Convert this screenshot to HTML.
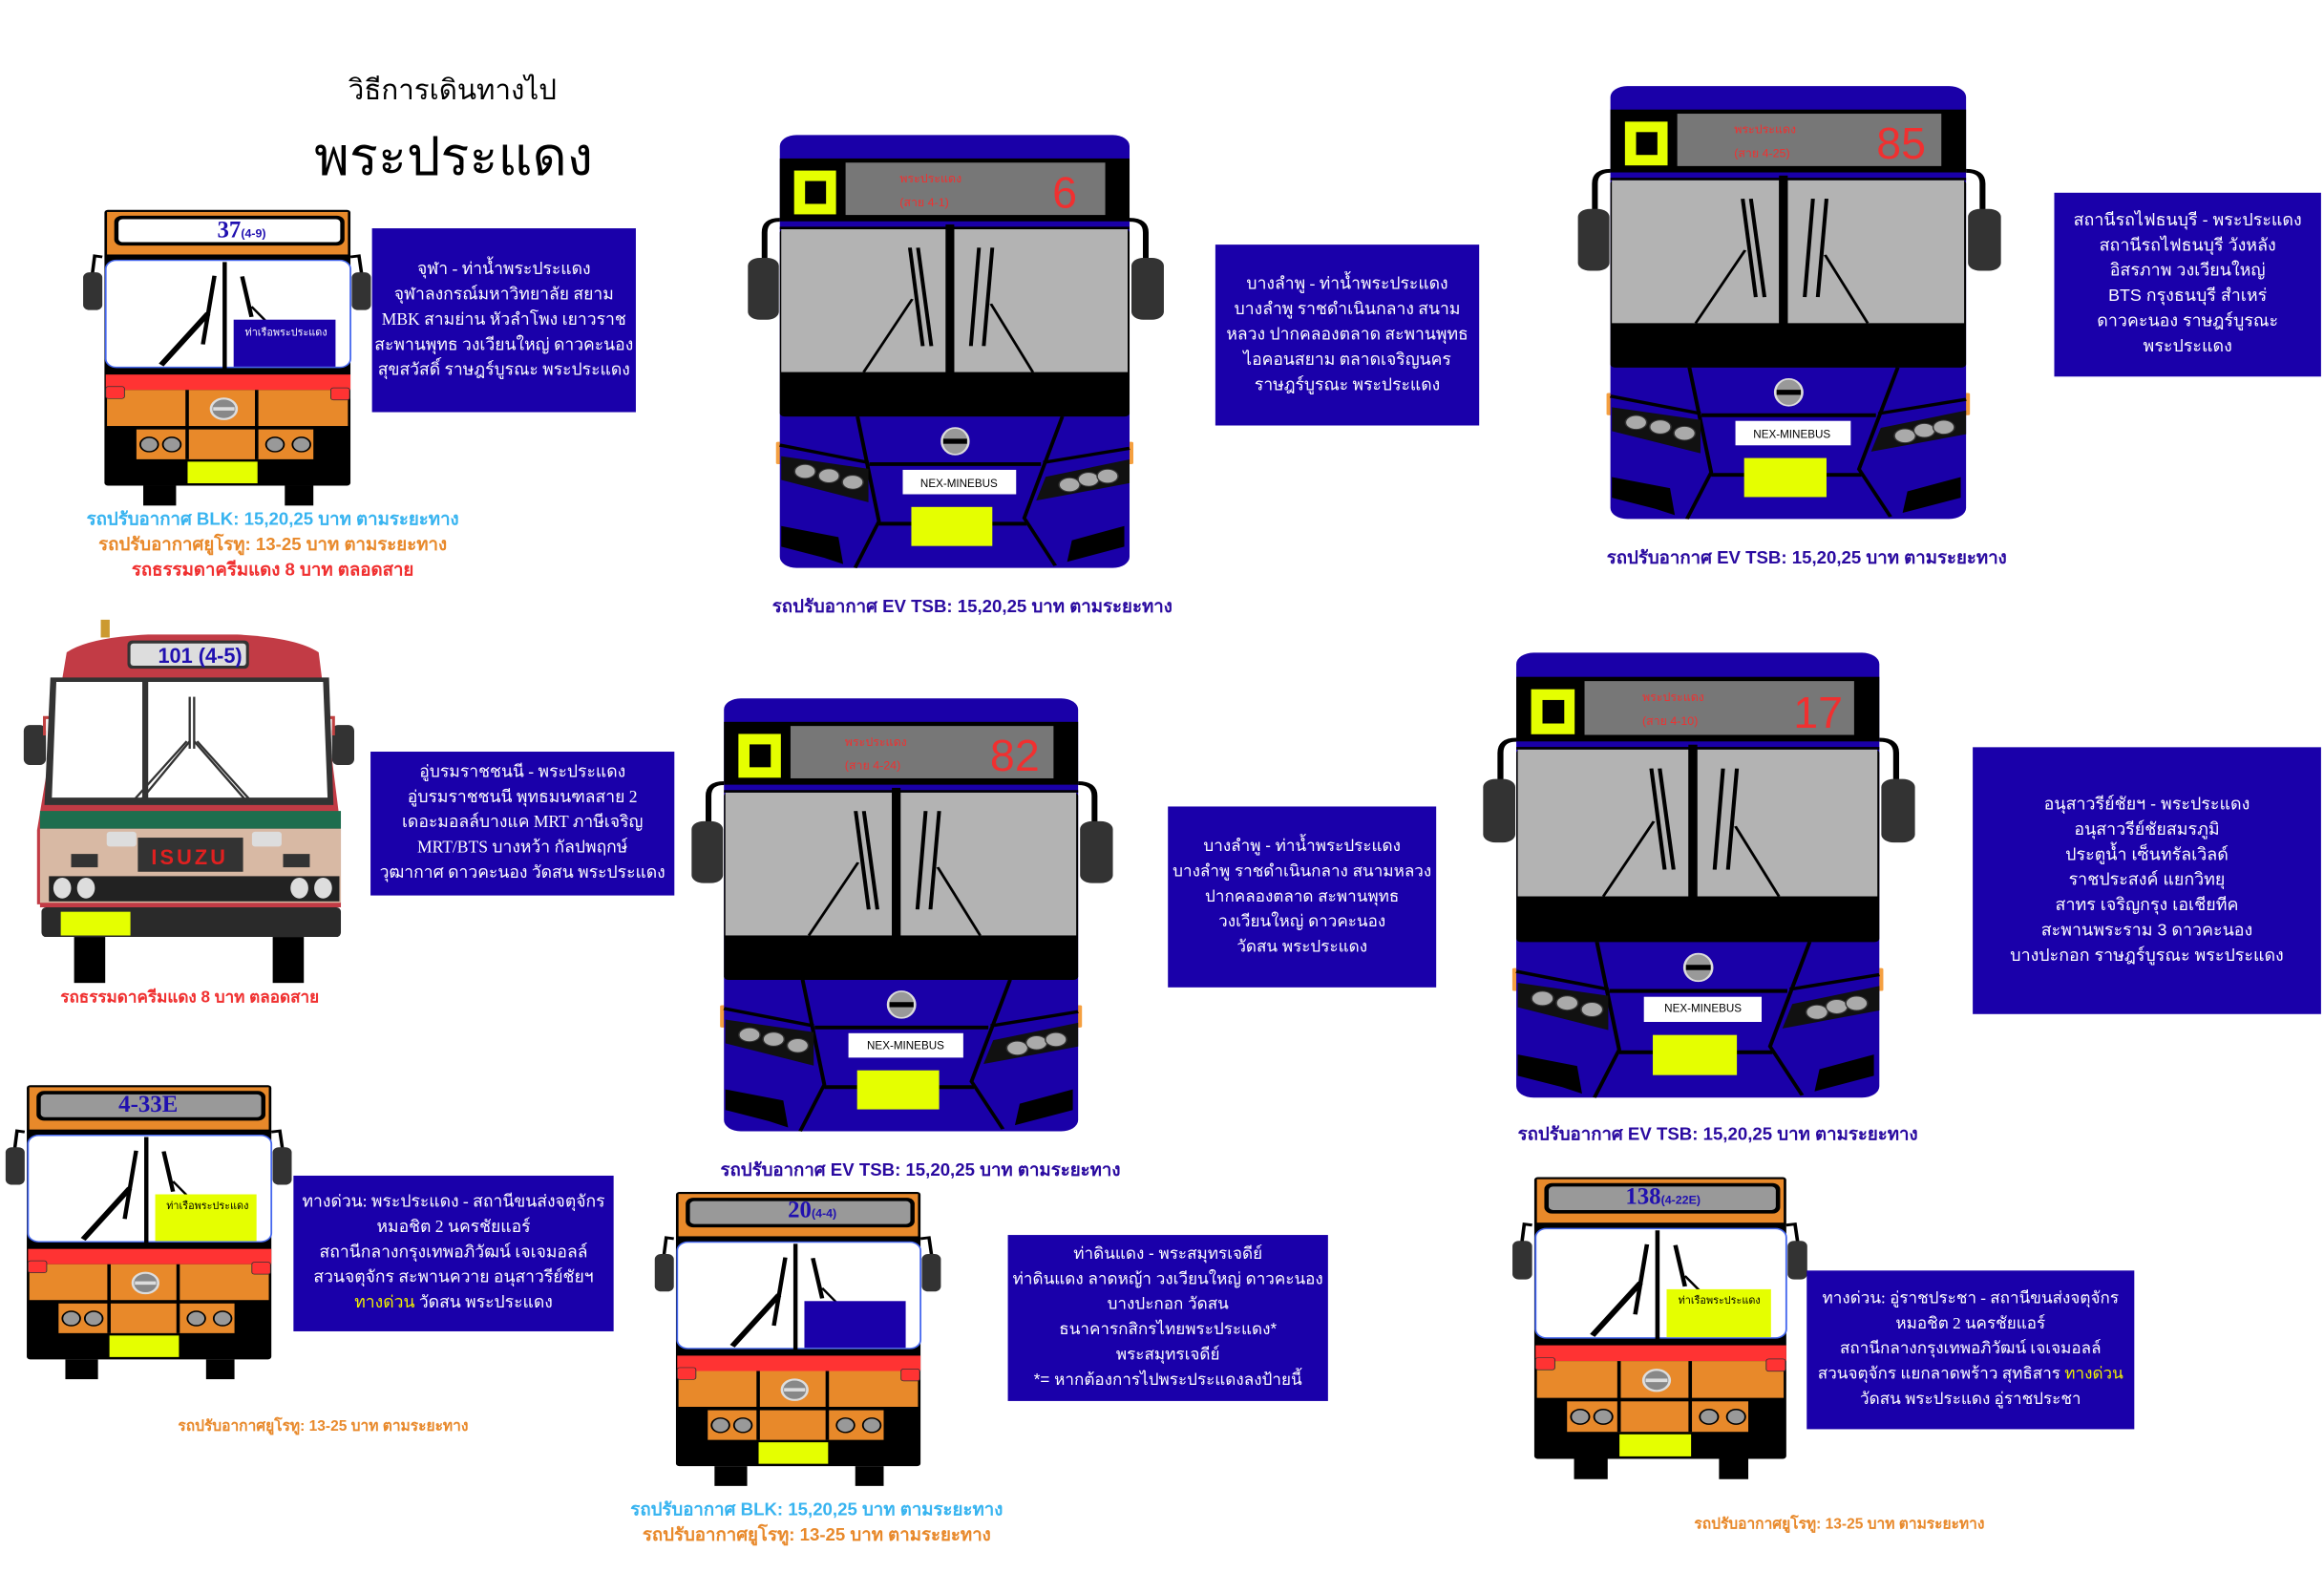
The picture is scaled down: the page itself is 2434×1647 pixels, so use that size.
<!DOCTYPE html>
<html><head><meta charset="utf-8">
<style>
html,body{margin:0;padding:0;background:#fff;overflow:hidden;}
#w{position:absolute;left:0;top:0;width:1568px;height:1061px;transform:scale(1.55230);transform-origin:0 0;font-family:"Liberation Sans",sans-serif;}
.a{position:absolute;}
.box{position:absolute;background:#1a00aa;color:#fff;display:flex;align-items:center;justify-content:center;text-align:center;font-size:11.3px;line-height:17px;font-family:"Liberation Serif",serif;white-space:nowrap;overflow:hidden;}
.box>div{width:100%;}
.sans{font-family:"Liberation Sans",sans-serif;font-size:11.5px;}
.cap{position:absolute;font-weight:bold;font-size:12px;white-space:nowrap;transform:translateX(-50%);}
.ev{color:#2a0aa0}.bl{color:#38b4f0}.or{color:#e8892b}.rd{color:#f03030}
.hd{position:absolute;color:#f03030;font-size:8px;white-space:nowrap;line-height:16px;}
.num{position:absolute;color:#f03030;font-size:30px;line-height:30px;}
.nex{position:absolute;font-size:7.5px;color:#000;transform:translate(-50%,-50%);white-space:nowrap;}
.sg{position:absolute;color:#2010b0;font-family:"Liberation Serif",serif;font-weight:bold;font-size:16px;white-space:nowrap;transform:translate(-50%,-50%);}
.sg small{font-family:"Liberation Sans",sans-serif;font-size:8px;}
.stk{position:absolute;font-size:7px;white-space:nowrap;transform:translate(-50%,-50%);}
.y{color:#f0f000}
svg.b{position:absolute;overflow:visible;}
</style></head><body>
<svg width="0" height="0" style="position:absolute">
<defs>
<symbol id="ob" viewBox="0 0 900 1400">
 <path d="M240 615 L222 612 L215 680" stroke="#000" stroke-width="8" fill="none"/>
 <rect x="195" y="660" width="45" height="110" rx="15" fill="#333"/>
 <path d="M822 615 L842 612 L850 680" stroke="#000" stroke-width="8" fill="none"/>
 <rect x="825" y="660" width="45" height="110" rx="15" fill="#333"/>
 <rect x="245" y="478" width="577" height="804" rx="8" fill="#000"/>
 <rect x="251" y="484" width="565" height="124" fill="#e8892a"/>
 <rect x="268" y="495" width="540" height="87" rx="18" fill="#000"/>
 <rect x="248" y="625" width="574" height="312" rx="25" fill="#fff" stroke="#4466ee" stroke-width="4"/>
 <rect x="522" y="630" width="10" height="310" fill="#000"/>
 <rect x="248" y="958" width="574" height="45" fill="#f33"/>
 <rect x="251" y="1003" width="565" height="105" fill="#e8892a"/>
 <rect x="248" y="993" width="44" height="35" rx="6" fill="#f33" stroke="#333" stroke-width="2"/>
 <rect x="776" y="997" width="44" height="35" rx="6" fill="#f33" stroke="#333" stroke-width="2"/>
 <rect x="320" y="1118" width="415" height="87" fill="#e8892a"/>
 <rect x="435" y="1003" width="8" height="202" fill="#000"/>
 <rect x="598" y="1003" width="8" height="202" fill="#000"/>
 <circle cx="525" cy="1058" r="30" fill="#888" stroke="#ddd" stroke-width="6"/>
 <rect x="500" y="1053" width="50" height="10" fill="#ddd"/>
 <g fill="#999" stroke="#000" stroke-width="4"><circle cx="350" cy="1162" r="21"/><circle cx="403" cy="1162" r="21"/><circle cx="645" cy="1162" r="21"/><circle cx="707" cy="1162" r="21"/></g>
 <rect x="440" y="1212" width="164" height="63" fill="#e5ff00"/>
 <rect x="336" y="1282" width="77" height="58" fill="#000"/>
 <rect x="668" y="1282" width="67" height="58" fill="#000"/>
 <g stroke="#000" fill="none"><line x1="503" y1="670" x2="476" y2="870" stroke-width="10"/><line x1="378" y1="930" x2="488" y2="780" stroke-width="14"/><line x1="568" y1="672" x2="590" y2="790" stroke-width="10"/><line x1="590" y1="760" x2="622" y2="800" stroke-width="6"/></g>
</symbol>
<symbol id="ev" viewBox="0 0 880 1400">
 <path d="M72 300 Q40 300 40 340 L40 425" stroke="#000" stroke-width="12" fill="none"/>
 <rect x="5" y="420" width="65" height="195" rx="25" fill="#333"/>
 <path d="M806 300 Q840 300 840 340 L840 425" stroke="#000" stroke-width="12" fill="none"/>
 <rect x="810" y="420" width="68" height="195" rx="25" fill="#333"/>
 <rect x="64" y="1000" width="12" height="70" rx="4" fill="#f5a040"/>
 <rect x="802" y="1000" width="12" height="70" rx="4" fill="#f5a040"/>
 <rect x="72" y="33" width="734" height="1364" rx="35" fill="#1a00a8"/>
 <rect x="72" y="107" width="734" height="198" fill="#000"/>
 <rect x="210" y="120" width="545" height="165" fill="#777"/>
 <rect x="102" y="145" width="88" height="138" fill="#e5ff00"/>
 <rect x="125" y="178" width="44" height="72" fill="#000"/>
 <rect x="72" y="322" width="734" height="8" fill="#000"/>
 <rect x="72" y="330" width="734" height="590" rx="10" fill="#000"/>
 <rect x="75" y="330" width="345" height="450" fill="#b3b3b3"/>
 <rect x="438" y="330" width="364" height="450" fill="#b3b3b3"/>
 <rect x="420" y="315" width="18" height="465" fill="#000"/>
 <g stroke="#000" fill="none">
  <line x1="345" y1="388" x2="372" y2="698" stroke-width="8"/><line x1="362" y1="388" x2="390" y2="698" stroke-width="8"/><line x1="350" y1="550" x2="248" y2="780" stroke-width="6"/>
  <line x1="490" y1="388" x2="473" y2="698" stroke-width="8"/><line x1="518" y1="388" x2="500" y2="698" stroke-width="8"/><line x1="515" y1="565" x2="603" y2="780" stroke-width="6"/>
  <polyline points="235,920 280,1250 230,1397" stroke-width="8"/><polyline points="665,920 585,1240 650,1390" stroke-width="8"/>
  <line x1="260" y1="1070" x2="620" y2="1070" stroke-width="12"/><line x1="280" y1="1258" x2="590" y2="1258" stroke-width="12"/>
  <line x1="72" y1="1010" x2="258" y2="1065" stroke-width="10"/><line x1="806" y1="1020" x2="625" y2="1065" stroke-width="10"/>
 </g>
 <ellipse cx="440" cy="998" rx="28" ry="42" fill="#999" stroke="#ddd" stroke-width="5"/>
 <rect x="415" y="990" width="50" height="16" fill="#000"/>
 <polygon points="75,1045 258,1085 258,1190 75,1120" fill="#111"/>
 <polygon points="806,1055 630,1110 610,1185 806,1130" fill="#111"/>
 <g fill="#aaa" stroke="#333" stroke-width="3"><circle cx="125" cy="1093" r="22"/><circle cx="175" cy="1107" r="22"/><circle cx="225" cy="1127" r="22"/><circle cx="680" cy="1135" r="22"/><circle cx="720" cy="1118" r="22"/><circle cx="760" cy="1108" r="22"/></g>
 <rect x="330" y="1088" width="238" height="77" fill="#fff"/>
 <rect x="348" y="1205" width="170" height="123" fill="#e5ff00"/>
 <polygon points="75,1265 195,1300 205,1385 165,1365 75,1330" fill="#000"/>
 <polygon points="795,1265 685,1310 675,1378 795,1330" fill="#000"/>
</symbol>
</defs></svg>

<div id="w">
<div class="a" style="left:235px;top:46px;font-size:19px;">วิธีการเดินทางไป</div>
<div class="a" style="left:212px;top:82px;font-size:36px;line-height:48px;">พระประแดง</div>

<!-- Bus 37 -->
<svg class="b" style="left:-0.5px;top:31.4px;width:258.9px;height:323.9px" viewBox="0 0 900 1400" preserveAspectRatio="none"><use href="#ob"/><rect x="278" y="505" width="520" height="67" rx="10" fill="#fff"/><rect x="548" y="798" width="239" height="137" fill="#1a00aa"/></svg>
<div class="sg" style="left:163px;top:156px;">37<small>(4-9)</small></div>
<div class="stk" style="left:193px;top:225px;color:#fff;">ท่าเรือพระประแดง</div>
<div class="box" style="left:251px;top:154px;width:178px;height:124px;"><div>จุฬา - ท่าน้ำพระประแดง<br>จุฬาลงกรณ์มหาวิทยาลัย สยาม<br>MBK สามย่าน หัวลำโพง เยาวราช<br>สะพานพุทธ วงเวียนใหญ่ ดาวคะนอง<br>สุขสวัสดิ์ ราษฎร์บูรณะ พระประแดง</div></div>
<div class="cap bl" style="left:184px;top:341px;">รถปรับอากาศ BLK: 15,20,25 บาท ตามระยะทาง</div>
<div class="cap or" style="left:184px;top:358px;">รถปรับอากาศยูโรทู: 13-25 บาท ตามระยะทาง</div>
<div class="cap rd" style="left:184px;top:375px;">รถธรรมดาครีมแดง 8 บาท ตลอดสาย</div>

<!-- Bus 6 -->
<svg class="b" style="left:502.9px;top:83.9px;width:282.9px;height:299.7px" viewBox="0 0 880 1400" preserveAspectRatio="none"><use href="#ev"/></svg>
<div class="hd" style="left:607px;top:113px;">พระประแดง<br>(สาย 4-1)</div>
<div class="num" style="left:710px;top:116px;">6</div>
<div class="nex" style="left:647px;top:326px;">NEX-MINEBUS</div>
<div class="box" style="left:820px;top:165px;width:178px;height:122px;"><div>บางลำพู - ท่าน้ำพระประแดง<br>บางลำพู ราชดำเนินกลาง สนาม<br>หลวง ปากคลองตลาด สะพานพุทธ<br>ไอคอนสยาม ตลาดเจริญนคร<br>ราษฎร์บูรณะ  พระประแดง</div></div>
<div class="cap ev" style="left:656px;top:400px;">รถปรับอากาศ EV TSB: 15,20,25 บาท ตามระยะทาง</div>

<!-- Bus 85 -->
<svg class="b" style="left:1062.5px;top:50.9px;width:287.7px;height:299.7px" viewBox="0 0 880 1400" preserveAspectRatio="none"><use href="#ev"/></svg>
<div class="hd" style="left:1170px;top:80px;">พระประแดง<br>(สาย 4-25)</div>
<div class="num" style="left:1266px;top:83px;">85</div>
<div class="nex" style="left:1209px;top:293px;">NEX-MINEBUS</div>
<div class="box sans" style="left:1386px;top:130px;width:180px;height:124px;"><div>สถานีรถไฟธนบุรี - พระประแดง<br>สถานีรถไฟธนบุรี วังหลัง<br>อิสรภาพ วงเวียนใหญ่<br>BTS กรุงธนบุรี สำเหร่<br>ดาวคะนอง ราษฎร์บูรณะ<br>พระประแดง</div></div>
<div class="cap ev" style="left:1219px;top:367px;">รถปรับอากาศ EV TSB: 15,20,25 บาท ตามระยะทาง</div>

<!-- Bus 101 -->
<svg class="b" style="left:0;top:400px;width:260px;height:280px" viewBox="0 400 260 280">
 <rect x="68" y="418" width="6" height="12" fill="#cc9a30"/>
 <rect x="16" y="489" width="15" height="27" rx="4" fill="#333"/><rect x="224" y="489" width="15" height="27" rx="4" fill="#333"/>
 <path d="M30 496 L30 484 L40 484" stroke="#c04040" stroke-width="2" fill="none"/><path d="M225 496 L225 484 L215 484" stroke="#c04040" stroke-width="2" fill="none"/>
 <path d="M45 440 Q60 430 100 428 L160 428 Q200 430 215 440 L230 560 L230 610 L25 610 L25 560 Z" fill="#c23b45"/>
 <rect x="86" y="432" width="82" height="19" rx="3" fill="#333"/>
 <rect x="88" y="434" width="78" height="15" rx="2" fill="#ddd"/>
 <path d="M34 457 L222 457 L225 543 L30 543 Z" fill="#333"/>
 <path d="M38 460 L96 460 L96 538 L35 538 Z" fill="#fff"/>
 <path d="M100 460 L218 460 L221 538 L100 538 Z" fill="#fff"/>
 <g stroke="#333" stroke-width="1.5" fill="none"><line x1="126" y1="500" x2="90" y2="540"/><line x1="128" y1="500" x2="94" y2="541"/><line x1="131" y1="500" x2="166" y2="540"/><line x1="133" y1="500" x2="170" y2="541"/><line x1="128" y1="470" x2="128" y2="505"/><line x1="131" y1="470" x2="131" y2="505"/></g>
 <rect x="27" y="547" width="203" height="12" fill="#1e6e4e"/>
 <rect x="27" y="559" width="203" height="50" fill="#d8b9a4"/>
 <rect x="72" y="561" width="20" height="10" rx="2" fill="#ddd"/><rect x="170" y="561" width="20" height="10" rx="2" fill="#ddd"/>
 <rect x="93" y="565" width="71" height="23" fill="#333"/>
 <text x="128" y="583" text-anchor="middle" font-family="Liberation Sans,sans-serif" font-weight="bold" font-size="14" letter-spacing="2" fill="#e02020">ISUZU</text>
 <rect x="48" y="576" width="18" height="9" fill="#333"/><rect x="191" y="576" width="18" height="9" fill="#333"/>
 <rect x="33" y="591" width="196" height="17" fill="#222"/>
 <g fill="#ddd"><ellipse cx="42" cy="599" rx="6" ry="7"/><ellipse cx="58" cy="599" rx="6" ry="7"/><ellipse cx="202" cy="599" rx="6" ry="7"/><ellipse cx="218" cy="599" rx="6" ry="7"/></g>
 <rect x="27" y="609" width="203" height="3" fill="#c23b45"/>
 <rect x="28" y="612" width="202" height="20" rx="3" fill="#2a2a2a"/>
 <rect x="41" y="615" width="47" height="16" fill="#e5ff00"/>
 <rect x="50" y="632" width="21" height="31" fill="#000"/><rect x="184" y="632" width="21" height="31" fill="#000"/>
</svg>
<div class="sg" style="left:135px;top:442px;font-family:'Liberation Sans',sans-serif;font-size:14px;">101 (4-5)</div>
<div class="box" style="left:250px;top:507px;width:205px;height:97px;"><div>อู่บรมราชชนนี - พระประแดง<br>อู่บรมราชชนนี พุทธมนฑลสาย 2<br>เดอะมอลล์บางแค MRT ภาษีเจริญ<br>MRT/BTS บางหว้า กัลปพฤกษ์<br>วุฒากาศ ดาวคะนอง วัดสน พระประแดง</div></div>
<div class="cap rd" style="left:128px;top:663px;font-size:11px;">รถธรรมดาครีมแดง 8 บาท ตลอดสาย</div>

<!-- Bus 82 -->
<svg class="b" style="left:464.6px;top:463.9px;width:286.5px;height:299.7px" viewBox="0 0 880 1400" preserveAspectRatio="none"><use href="#ev"/></svg>
<div class="hd" style="left:570px;top:493px;">พระประแดง<br>(สาย 4-24)</div>
<div class="num" style="left:668px;top:496px;">82</div>
<div class="nex" style="left:611px;top:705px;">NEX-MINEBUS</div>
<div class="box sans" style="left:788px;top:544px;width:181px;height:122px;font-size:11px;"><div>บางลำพู - ท่าน้ำพระประแดง<br>บางลำพู ราชดำเนินกลาง สนามหลวง<br>ปากคลองตลาด สะพานพุทธ<br>วงเวียนใหญ่ ดาวคะนอง<br>วัดสน  พระประแดง</div></div>
<div class="cap ev" style="left:621px;top:780px;">รถปรับอากาศ EV TSB: 15,20,25 บาท ตามระยะทาง</div>

<!-- Bus 17 -->
<svg class="b" style="left:999px;top:432.7px;width:293.7px;height:308px" viewBox="0 0 880 1400" preserveAspectRatio="none"><use href="#ev"/></svg>
<div class="hd" style="left:1108px;top:463px;">พระประแดง<br>(สาย 4-10)</div>
<div class="num" style="left:1210px;top:467px;">17</div>
<div class="nex" style="left:1149px;top:680px;">NEX-MINEBUS</div>
<div class="box sans" style="left:1331px;top:504px;width:235px;height:180px;"><div>อนุสาวรีย์ชัยฯ - พระประแดง<br>อนุสาวรีย์ชัยสมรภูมิ<br>ประตูน้ำ เซ็นทรัลเวิลด์<br>ราชประสงค์ แยกวิทยุ<br>สาทร  เจริญกรุง เอเชียทีค<br>สะพานพระราม 3 ดาวคะนอง<br>บางปะกอก ราษฎร์บูรณะ พระประแดง</div></div>
<div class="cap ev" style="left:1159px;top:756px;">รถปรับอากาศ EV TSB: 15,20,25 บาท ตามระยะทาง</div>

<!-- Bus 4-33E -->
<svg class="b" style="left:-52.1px;top:622px;width:257.4px;height:322.1px" viewBox="0 0 900 1400" preserveAspectRatio="none"><use href="#ob"/><rect x="278" y="505" width="520" height="67" rx="10" fill="#999"/><rect x="548" y="798" width="239" height="137" fill="#e5ff00"/></svg>
<div class="sg" style="left:100px;top:746px;">4-33E</div>
<div class="stk" style="left:140px;top:814px;color:#000;">ท่าเรือพระประแดง</div>
<div class="box" style="left:198px;top:793px;width:216px;height:105px;"><div>ทางด่วน: พระประแดง - สถานีขนส่งจตุจักร<br>หมอชิต 2 นครชัยแอร์<br>สถานีกลางกรุงเทพอภิวัฒน์ เจเจมอลล์<br>สวนจตุจักร สะพานควาย อนุสาวรีย์ชัยฯ<br><span class="y">ทางด่วน</span> วัดสน พระประแดง</div></div>
<div class="cap or" style="left:218px;top:955px;font-size:10px;">รถปรับอากาศยูโรทู: 13-25 บาท ตามระยะทาง</div>

<!-- Bus 20 -->
<svg class="b" style="left:385.9px;top:694px;width:257.4px;height:322.1px" viewBox="0 0 900 1400" preserveAspectRatio="none"><use href="#ob"/><rect x="278" y="505" width="520" height="67" rx="10" fill="#999"/><rect x="548" y="798" width="239" height="137" fill="#1a00aa"/></svg>
<div class="sg" style="left:548px;top:817px;">20<small>(4-4)</small></div>
<div class="box sans" style="left:680px;top:833px;width:216px;height:112px;font-size:11px;"><div>ท่าดินแดง - พระสมุทรเจดีย์<br>ท่าดินแดง ลาดหญ้า วงเวียนใหญ่ ดาวคะนอง<br>บางปะกอก วัดสน<br>ธนาคารกสิกรไทยพระประแดง*<br>พระสมุทรเจดีย์<br>*= หากต้องการไปพระประแดงลงป้ายนี้</div></div>
<div class="cap bl" style="left:551px;top:1009px;">รถปรับอากาศ BLK: 15,20,25 บาท ตามระยะทาง</div>
<div class="cap or" style="left:551px;top:1026px;">รถปรับอากาศยูโรทู: 13-25 บาท ตามระยะทาง</div>

<!-- Bus 138 -->
<svg class="b" style="left:962.8px;top:681px;width:265.2px;height:330.9px" viewBox="0 0 900 1400" preserveAspectRatio="none"><use href="#ob"/><rect x="278" y="505" width="520" height="67" rx="10" fill="#999"/><rect x="548" y="798" width="239" height="137" fill="#e5ff00"/></svg>
<div class="sg" style="left:1122px;top:808px;">138<small>(4-22E)</small></div>
<div class="stk" style="left:1160px;top:878px;color:#000;">ท่าเรือพระประแดง</div>
<div class="box" style="left:1219px;top:857px;width:221px;height:107px;font-size:11px;"><div>ทางด่วน: อู่ราชประชา - สถานีขนส่งจตุจักร<br>หมอชิต 2 นครชัยแอร์<br>สถานีกลางกรุงเทพอภิวัฒน์ เจเจมอลล์<br>สวนจตุจักร แยกลาดพร้าว สุทธิสาร <span class="y">ทางด่วน</span><br>วัดสน พระประแดง อู่ราชประชา</div></div>
<div class="cap or" style="left:1241px;top:1021px;font-size:10px;">รถปรับอากาศยูโรทู: 13-25 บาท ตามระยะทาง</div>
</div>
</body></html>
